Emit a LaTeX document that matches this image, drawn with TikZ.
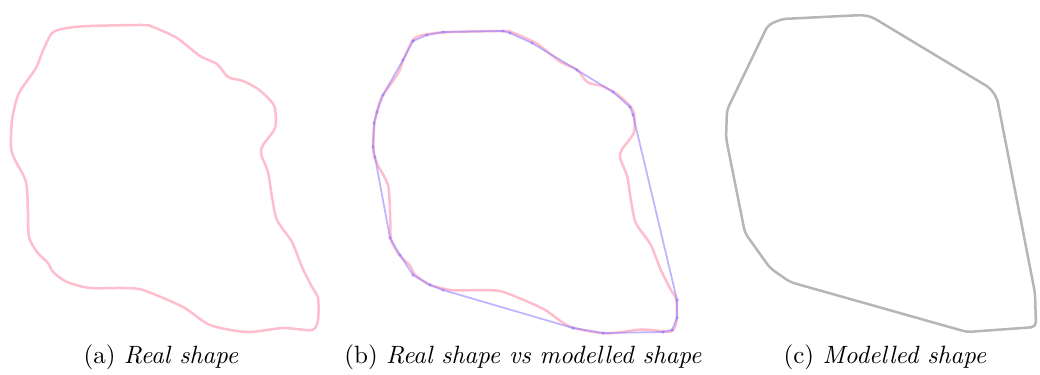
\documentclass[tikz,border=0pt]{standalone}
\definecolor{realpink}{RGB}{255,190,205}
\definecolor{hullblue}{RGB}{150,128,255}
\definecolor{hullgrey}{RGB}{182,182,182}
\tikzset{
  realline/.style={realpink,line width=1pt,line join=round},
  hullline/.style={hullblue,line width=0.7pt,opacity=0.6,line join=round},
  greyline/.style={hullgrey,line width=1pt,rounded corners=2pt},
  caption/.style={font=\normalsize,anchor=center},
  realblob/.pic={
    \draw[realline] plot[smooth cycle,tension=0.45] coordinates {
      (52,33) (67,28) (90,26) (143,25) (153,27) (177,38) (200,56) (217,64)
      (228,77) (243,81) (258,89) (270,100) (275,108) (275,128) (263,145)
      (261,154) (268,172) (272,197) (277,220) (292,242) (302,267) (312,287)
      (318,298) (318,320) (312,330) (283,328) (247,332) (210,325) (183,307)
      (143,290) (123,288) (90,288) (67,282) (53,272) (48,263) (37,252)
      (29,237) (28,213) (26,182) (15,160) (11,147) (12,120) (17,98) (22,88)
      (36,68) (42,53)};
  }
}
\begin{document}
\begin{tikzpicture}[x=0.4pt,y=-0.4pt]
    \useasboundingbox (0,0) rectangle (1040,374);
    % (a) real shape
    \pic at (0,0) {realblob};
    % (b) real vs modelled
    \pic[xscale=0.987,yscale=0.985] at (362.5,6.4) {realblob};
    \draw[hullline] plot[mark=*,mark size=0.35pt] coordinates {
      (413,41) (427,35) (443,32) (503,31) (510,33) (532,43) (577,70) (613,92)
      (630,107) (633,115) (677,300) (677,318) (672,330) (663,332) (603,333)
      (573,328) (443,290) (430,285) (413,275) (400,255) (390,238) (375,157)
      (373,147) (374,123) (377,112) (383,95) (403,60) (413,41)};
    % (c) modelled shape
    \draw[greyline] (727,110) -- (768,25) -- (782,19) -- (863,15) -- (872,17)
      -- (990,88) -- (997,98) -- (1035,293) -- (1036,327) -- (967,332)
      -- (790,282) -- (770,268) -- (745,233) -- (726,138) -- cycle;

    \node[caption] (capa) at (161,357) {(a) \textit{Real shape}};
    \node[caption] (capb) at (523,357) {(b) \textit{Real shape vs modelled shape}};
    \node[caption] (capc) at (885,357) {(c) \textit{Modelled shape}};
\end{tikzpicture}
\end{document}
